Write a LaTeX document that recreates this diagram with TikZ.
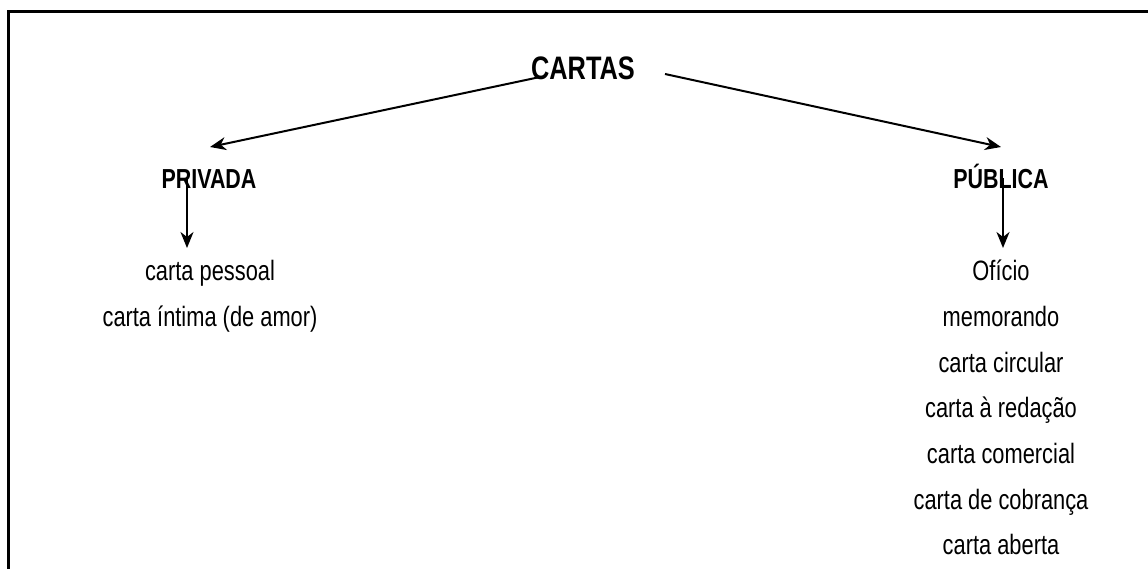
\documentclass[tikz,border=0pt]{standalone}
\usepackage{fontspec}
\setmainfont[FakeStretch=0.78]{Liberation Sans}
\usetikzlibrary{arrows.meta}
\begin{document}
\begin{tikzpicture}[x=1pt,y=-1pt,
  head/.style={font=\fontsize{27.5}{27.5}\selectfont\bfseries, inner sep=0pt, anchor=base},
  item/.style={font=\fontsize{28}{28}\selectfont, inner sep=0pt, anchor=base},
  conn/.style={line width=2pt,-{Stealth[length=16pt,width=13pt,inset=5pt]}}]
\useasboundingbox (0,0) rectangle (1148,568);
\draw[line width=3pt] (8,570) -- (8,11) -- (1150,11);
\node[font=\fontsize{32.5}{32.5}\selectfont\bfseries, inner sep=0pt, anchor=base] (cartas) at (583,79) {CARTAS};
\node[head] (priv) at (209,188) {PRIVADA};
\node[head] (pub) at (1001,188) {PÚBLICA};
\node[item] (p1) at (210,280) {carta pessoal};
\node[item] (p2) at (210,326) {carta íntima (de amor)};
\node[item] (q1) at (1001,280) {Ofício};
\node[item] (q2) at (1001,326) {memorando};
\node[item] (q3) at (1001,372) {carta circular};
\node[item] (q4) at (1001,417) {carta à redação};
\node[item] (q5) at (1001,463) {carta comercial};
\node[item] (q6) at (1001,509) {carta de cobrança};
\node[item] (q7) at (1001,554) {carta aberta};
\coordinate (cl) at (540,77);
\coordinate (cr) at (665,74);
\coordinate (tl) at (210,147);
\coordinate (tr) at (1001,147);
\coordinate (pd) at (187,178);
\coordinate (pdt) at (187,248);
\coordinate (qd) at (1003,178);
\coordinate (qdt) at (1003,248);
\draw[conn] (cl) -- (tl);
\draw[conn] (cr) -- (tr);
\draw[conn] (pd) -- (pdt);
\draw[conn] (qd) -- (qdt);
\end{tikzpicture}
\end{document}
